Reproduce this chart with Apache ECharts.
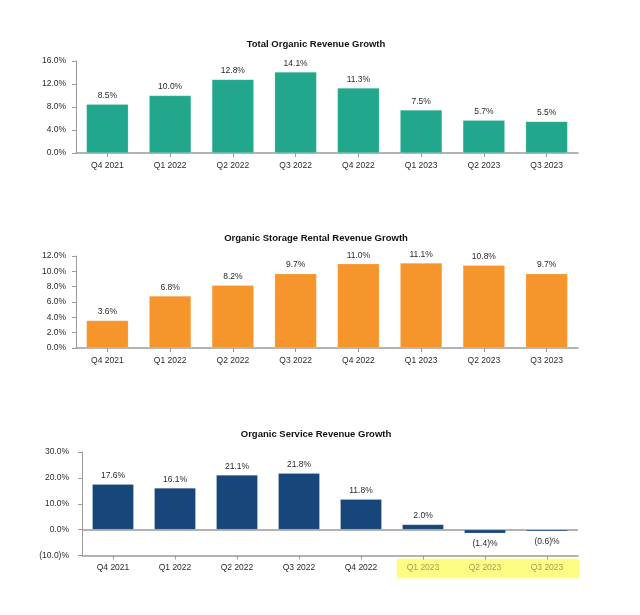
<!DOCTYPE html>
<html>
<head>
<meta charset="utf-8">
<script src="https://cdn.jsdelivr.net/npm/echarts@6/dist/echarts.min.js"></script>
<style>
html,body{margin:0;padding:0;background:#fff;}
#c{width:640px;height:615px;}
</style>
</head>
<body>
<div id="c"></div>
<script>
const categories = ['Q4 2021','Q1 2022','Q2 2022','Q3 2022','Q4 2022','Q1 2023','Q2 2023','Q3 2023'];
const totalOrganic = [8.5, 10.0, 12.8, 14.1, 11.3, 7.5, 5.7, 5.5];
const storageRental = [3.6, 6.8, 8.2, 9.7, 11.0, 11.1, 10.8, 9.7];
const serviceRevenue = [17.6, 16.1, 21.1, 21.8, 11.8, 2.0, -1.4, -0.6];
const titles = ['Total Organic Revenue Growth','Organic Storage Rental Revenue Growth','Organic Service Revenue Growth'];
const highlightFrom = 5;

const FONT = '"Liberation Sans", Arial, sans-serif';
const TXT = '#2a2a2a';
const AX = '#9a9a9a';

function pct(v){
  return v < 0 ? '(' + Math.abs(v).toFixed(1) + ')%' : v.toFixed(1) + '%';
}

const grids = [
  {left:76, right:62, top:61, height:92},
  {left:76, right:62, top:256, height:92},
  {left:82, right:62, top:452, height:103.5}
];
const titleTops = [34, 228, 424];

const chart = echarts.init(document.getElementById('c'), null, {renderer:'canvas'});

function xAxis(i){
  return {
    type:'category', gridIndex:i, data:categories,
    axisLine:{show:true, onZero:false, lineStyle:{color:AX, width:1.5}},
    axisTick:{show:true, alignWithLabel:true, length:4, lineStyle:{color:AX}},
    axisLabel:{
      fontFamily:FONT, fontSize:8.5, color:TXT, margin:8,
      formatter: i === 2 ? function(v, idx){ return idx >= highlightFrom ? '{h|' + v + '}' : v; } : undefined,
      rich: i === 2 ? {h:{color:'#a3a352', fontFamily:FONT, fontSize:8.5}} : undefined
    },
    splitLine:{show:false}
  };
}
function yAxis(i, min, max, interval, margin){
  return {
    type:'value', gridIndex:i, min:min, max:max, interval:interval,
    axisLine:{show:true, lineStyle:{color:AX, width:1}},
    axisTick:{show:true, length:4, lineStyle:{color:AX}},
    axisLabel:{fontFamily:FONT, fontSize:8.5, color:TXT, margin:margin, formatter:pct},
    splitLine:{show:false}
  };
}
function series(i, data, color){
  return {
    type:'bar', xAxisIndex:i, yAxisIndex:i, z:5,
    barCategoryGap:'33%',
    itemStyle:{color:color, borderColor:'rgba(255,255,255,0.3)', borderWidth:0.6},
    data:data.map(function(v){
      return v < 0 ? {value:v, label:{position:'bottom', distance:6}} : {value:v};
    }),
    label:{show:true, position:'top', distance:4, fontFamily:FONT, fontSize:8.5, color:TXT,
      formatter:function(p){ return pct(p.value); }},
    silent:true, animation:false
  };
}

const zeroLine = {
  type:'line', xAxisIndex:2, yAxisIndex:2, z:1, data:[], silent:true,
  markLine:{
    silent:true, symbol:['none','none'], label:{show:false}, z:1,
    lineStyle:{color:AX, type:'solid', width:1.5},
    data:[{yAxis:0}], animation:false
  }
};

chart.setOption({
  animation:false,
  title: titles.map(function(t, i){
    return {text:t, left:311, top:titleTops[i], textAlign:'center',
      textStyle:{fontFamily:FONT, fontSize:9.5, fontWeight:'bold', color:'#111'}};
  }),
  graphic:[{
    type:'rect', z:-1, silent:true,
    shape:{x:397, y:559, width:182, height:19, r:2},
    style:{fill:'#fdfd86', shadowBlur:3, shadowColor:'#fdfd86'}
  }],
  grid: grids,
  xAxis:[xAxis(0), xAxis(1), xAxis(2)],
  yAxis:[yAxis(0, 0, 16, 4, 10), yAxis(1, 0, 12, 2, 10), yAxis(2, -10, 30, 10, 13)],
  series:[
    series(0, totalOrganic, '#22a78c'),
    series(1, storageRental, '#f7952d'),
    zeroLine,
    series(2, serviceRevenue, '#16467a')
  ]
});
</script>
</body>
</html>
